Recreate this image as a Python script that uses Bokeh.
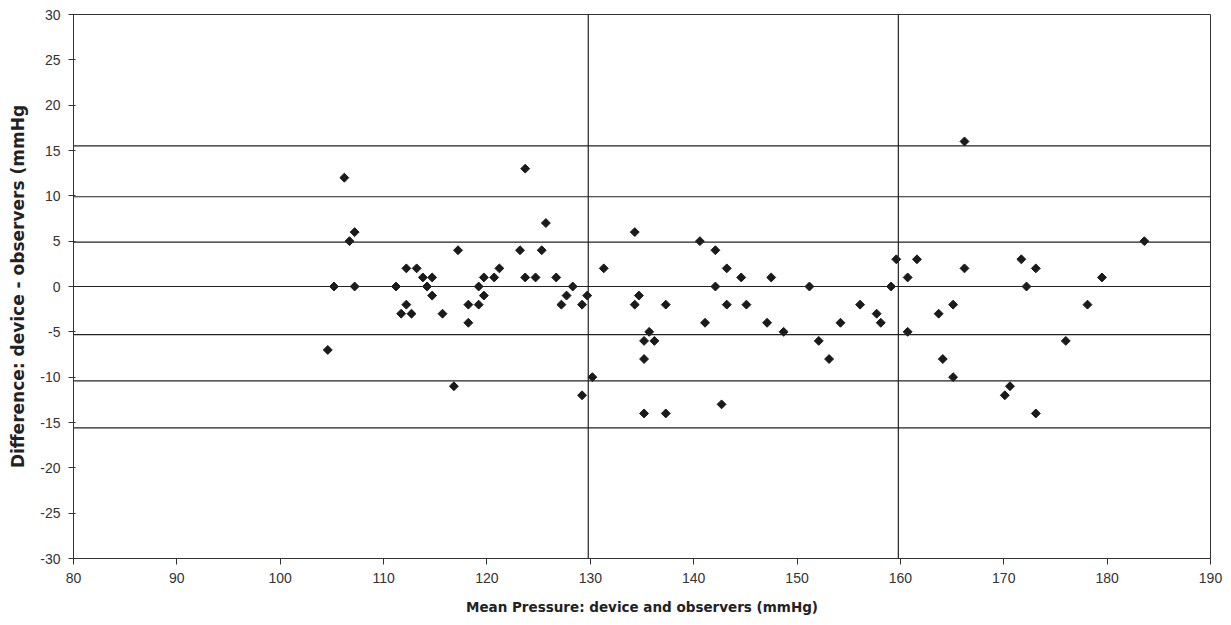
import numpy as np
from bokeh.plotting import figure
from bokeh.models import FixedTicker, Span, ColumnDataSource, PrintfTickFormatter
from bokeh.embed import file_html
from bokeh.resources import INLINE

# Data: mean pressure (x) vs difference (y)
mean_pressure = [104.6, 105.2, 106.2, 106.7, 107.2, 107.2, 111.2, 111.7, 112.2, 112.2,
                 112.7, 113.2, 113.8, 114.2, 114.7, 114.7, 115.7, 116.8, 117.2, 118.2,
                 118.2, 119.2, 119.2, 119.7, 119.7, 120.7, 121.2, 123.2, 123.7, 123.7,
                 124.7, 125.3, 125.7, 126.7, 127.2, 127.7, 128.3, 129.2, 129.2, 129.7,
                 130.2, 131.3, 134.3, 134.3, 134.7, 135.2, 135.2, 135.2, 135.7, 136.2,
                 137.3, 137.3, 140.6, 141.1, 142.1, 142.1, 142.7, 143.2, 143.2, 144.6,
                 145.1, 147.1, 147.5, 148.7, 151.2, 152.1, 153.1, 154.2, 156.1, 157.7,
                 158.1, 159.1, 159.6, 160.7, 160.7, 161.6, 163.7, 164.1, 165.1, 165.1,
                 166.2, 166.2, 170.1, 170.6, 171.7, 172.2, 173.1, 173.1, 176.0, 178.1,
                 179.5, 183.6]
difference = [-7, 0, 12, 5, 6, 0, 0, -3, 2, -2,
              -3, 2, 1, 0, 1, -1, -3, -11, 4, -2,
              -4, 0, -2, 1, -1, 1, 2, 4, 13, 1,
              1, 4, 7, 1, -2, -1, 0, -2, -12, -1,
              -10, 2, 6, -2, -1, -6, -8, -14, -5, -6,
              -2, -14, 5, -4, 4, 0, -13, 2, -2, 1,
              -2, -4, 1, -5, 0, -6, -8, -4, -2, -3,
              -4, 0, 3, 1, -5, 3, -3, -8, -2, -10,
              16, 2, -12, -11, 3, 0, 2, -14, -6, -2,
              1, 5]

# Reference lines
h_lines = [15.5, 9.9, 4.9, 0, -5.3, -10.4, -15.6]
v_lines = [129.8, 159.8]

x_ticks = list(range(80, 191, 10))
y_ticks = list(range(-30, 31, 5))

p = figure(width=1225, height=617, x_range=(80, 190), y_range=(-30, 30),
           output_backend="svg", toolbar_location=None,
           min_border_left=73, min_border_right=15, min_border_top=14, min_border_bottom=59)

p.background_fill_color = "white"
p.border_fill_color = "white"
p.outline_line_color = "#333333"
p.outline_line_width = 1
p.xgrid.grid_line_color = None
p.ygrid.grid_line_color = None

for yv in h_lines:
    p.add_layout(Span(location=yv, dimension="width", line_color="#222222", line_width=1.2))
for xv in v_lines:
    p.add_layout(Span(location=xv, dimension="height", line_color="#222222", line_width=1.2))

src = ColumnDataSource(dict(x=mean_pressure, y=difference))
p.scatter("x", "y", source=src, marker="square", angle=np.pi / 4, size=6.3,
          fill_color="#1a1a1a", line_color="#1a1a1a")

for ax in (p.xaxis[0], p.yaxis[0]):
    ax.axis_line_color = "#333333"
    ax.major_tick_line_color = "#333333"
    ax.minor_tick_line_color = None
    ax.major_label_text_font = "Liberation Sans"
    ax.major_label_text_font_size = "14px"
    ax.major_label_text_color = "#333333"
    ax.axis_label_text_font = "DejaVu Sans"
    ax.axis_label_text_font_style = "bold"
    ax.axis_label_text_color = "#222222"
    ax.formatter = PrintfTickFormatter(format="%d")

p.xaxis.axis_label_text_font_size = "13.5px"
p.yaxis.axis_label_text_font_size = "17px"
p.xaxis.ticker = FixedTicker(ticks=x_ticks)
p.yaxis.ticker = FixedTicker(ticks=y_ticks)
p.xaxis.major_tick_out = 6
p.xaxis.major_tick_in = 0
p.yaxis.major_tick_out = 5
p.yaxis.major_tick_in = 2
p.xaxis.major_label_standoff = 8
p.yaxis.major_label_standoff = 8
p.xaxis.axis_label = "Mean Pressure: device and observers (mmHg)"
p.yaxis.axis_label = "Difference: device - observers (mmHg"
p.xaxis.axis_label_standoff = 13
p.yaxis.axis_label_standoff = 9

open("out.html", "w").write(file_html(p, INLINE))
